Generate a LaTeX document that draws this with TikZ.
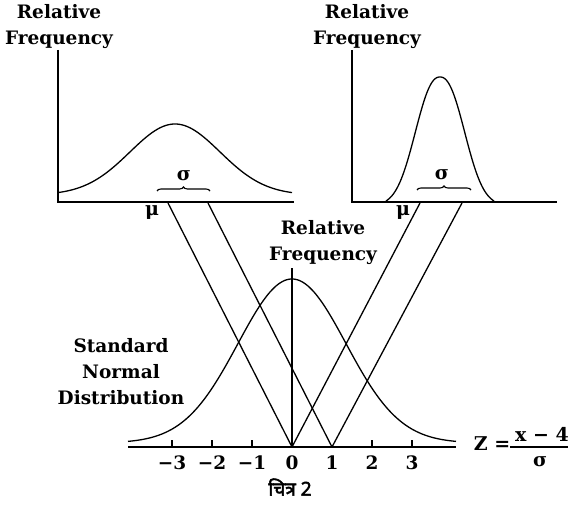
\documentclass[tikz,border=0pt]{standalone}
\usepackage{fontspec}
\setmainfont{DejaVu Serif}
\newfontfamily\devfont[Script=Devanagari, FakeBold=2.5]{Noto Sans}
\usetikzlibrary{decorations.pathreplacing}
\tikzset{
  curve/.style={line width=1.3pt},
  axisline/.style={line width=1.4pt},
  link/.style={line width=1.3pt},
  lbl/.style={font=\fontsize{18.5}{26}\selectfont\bfseries, align=center, inner sep=0pt},
  sym/.style={font=\fontsize{19}{19}\selectfont\bfseries, inner sep=0pt},
  ticklbl/.style={font=\fontsize{18.5}{18.5}\selectfont\bfseries, inner sep=0pt},
  sbrace/.style={decorate, decoration={brace, amplitude=4pt}, line width=1.1pt},
}
\begin{document}
\begin{tikzpicture}[x=1pt,y=-1pt]
\useasboundingbox (0,0) rectangle (568,508);

% ---------- top-left plot ----------
\coordinate (LTop) at (58,50);
\coordinate (LO) at (58,202);
\coordinate (LEnd) at (294,202);
\draw[axisline] (LTop) -- (LO) -- (LEnd);
\draw[curve] plot[domain=58:292, samples=120] (\x, {195 - 71*exp(-((\x-175)/45)*((\x-175)/45)/2)});
\node[lbl] (Llab) at (59,27) {Relative\\Frequency};
\draw[sbrace] (157,191) -- (210,191);
\node[sym] (Lsig) at (184,176) {σ};
\node[sym] (Lmu) at (152,213) {μ};
\coordinate (LmuA) at (168,203);
\coordinate (LsigA) at (208,203);

% ---------- top-right plot ----------
\coordinate (RTop) at (352,50);
\coordinate (RO) at (352,202);
\coordinate (REnd) at (557,202);
\draw[axisline] (RTop) -- (RO) -- (REnd);
\draw[curve] plot[domain=386:494, samples=101] (\x, {201 - 124*(exp(-((abs(\x-440)+0.001)/31.7)^2.3)-0.033)/0.967});
\node[lbl] (Rlab) at (367,27) {Relative\\Frequency};
\draw[sbrace] (417,190) -- (471,190);
\node[sym] (Rsig) at (442,175) {σ};
\node[sym] (Rmu) at (403,213) {μ};
\coordinate (RmuA) at (420,203);
\coordinate (RsigA) at (462,203);

% ---------- bottom (standard normal) ----------
\coordinate (BStart) at (128,447);
\coordinate (BEnd) at (456,447);
\draw[axisline] (BStart) -- (BEnd);
\draw[curve] plot[domain=128:456, samples=160] (\x, {443 - 164*exp(-((\x-292)/54)*((\x-292)/54)/2)});
\coordinate (Z0) at (292,447);
\coordinate (Z1) at (332,447);
\coordinate (VTop) at (292,268);
\draw[curve] (VTop) -- (Z0);
\foreach \t in {-3,-2,-1,2,3}{
  \draw[axisline] (292+40*\t,447) -- (292+40*\t,440);
}
\foreach \t/\l [count=\i] in {-3/{−3},-2/{−2},-1/{−1},0/0,1/1,2/2,3/3}{
  \node[ticklbl] (tl\i) at (292+40*\t,463) {\l};
}
\node[lbl] (Blab) at (323,243) {Relative\\Frequency};
\node[lbl] (SND) at (121,372) {Standard\\Normal\\Distribution};

% ---------- connectors ----------
\draw[link] (LmuA) -- (Z0);
\draw[link] (LsigA) -- (Z1);
\draw[link] (RmuA) -- (Z0);
\draw[link] (RsigA) -- (Z1);

% ---------- formula ----------
\node[sym] (Zeq) at (492,444) {Z =};
\node[sym, anchor=east] (num) at (569,434) {x − 4};
\coordinate (barL) at (510,447);
\coordinate (barR) at (568,447);
\draw[line width=1.2pt] (barL) -- (barR);
\node[sym] (den) at (540,462) {σ};

% ---------- caption ----------
\node[font=\devfont\fontsize{19}{19}\selectfont, inner sep=0pt] (cap) at (290,487) {चित्र 2};
\end{tikzpicture}
\end{document}
